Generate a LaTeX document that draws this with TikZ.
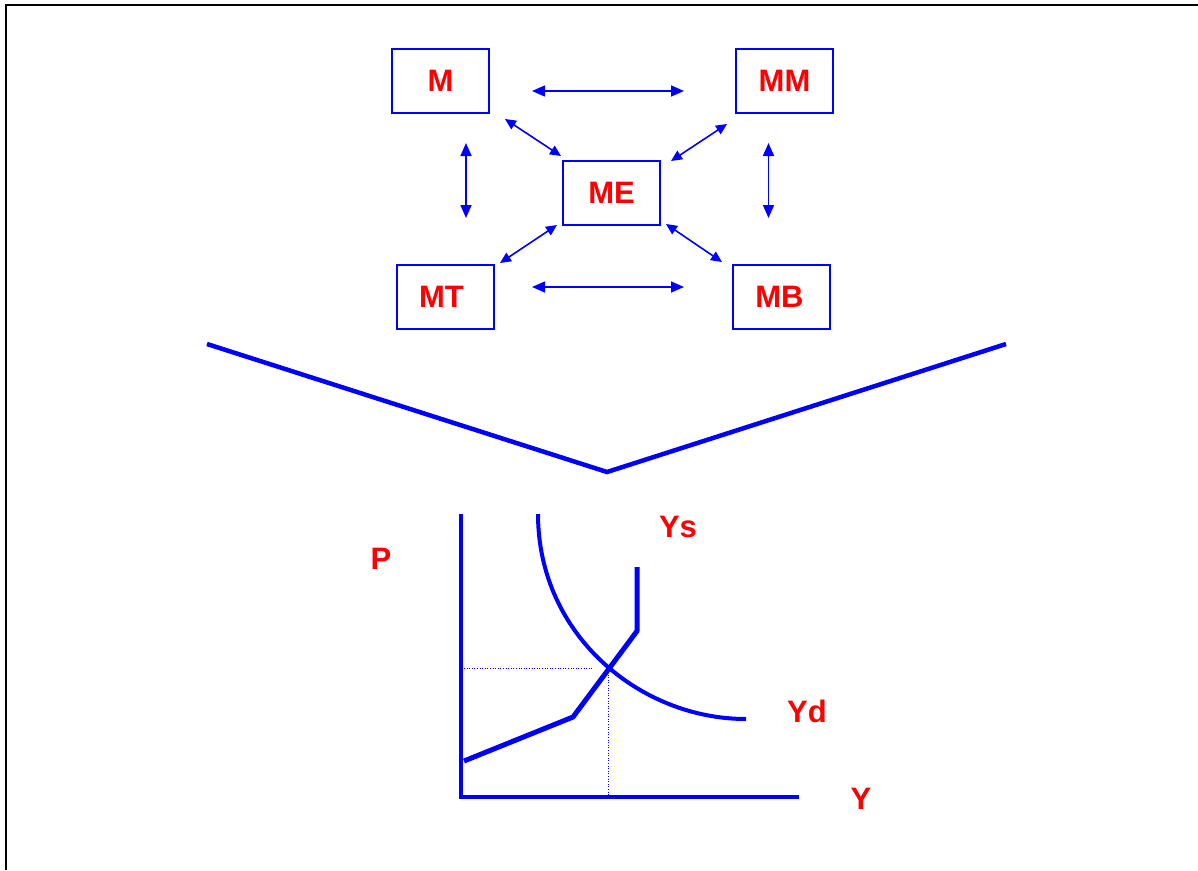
\documentclass[tikz,border=0pt]{standalone}
\usepackage{fontspec}
\setmainfont{Liberation Sans}
\usetikzlibrary{arrows.meta}
\definecolor{pblue}{RGB}{0,0,255}
\definecolor{pred}{RGB}{255,0,0}
\begin{document}
\begin{tikzpicture}[x=1pt,y=-1pt,
  boxnode/.style={draw=pblue,line width=1.5pt,minimum width=97pt,minimum height=64pt,inner sep=0pt,
    text=pred,font=\fontsize{31}{31}\selectfont\bfseries},
  lbl/.style={text=pred,font=\fontsize{31}{31}\selectfont\bfseries,inner sep=0pt},
  link/.style={draw=pblue,line width=1.6pt,{Triangle[length=13pt,width=11pt]}-{Triangle[length=13pt,width=11pt]}},
  dlink/.style={draw=pblue,line width=1.6pt,{Triangle[length=11pt,width=10pt]}-{Triangle[length=11pt,width=10pt]}},
  thick line/.style={draw=pblue,line width=4.5pt},
  guide/.style={draw=pblue,line width=0.6pt,dotted}]
\useasboundingbox (0,0) rectangle (1198,870);
% frame
\draw[line width=2pt] (6,870) -- (6,5) -- (1198,5);
% boxes
\node[boxnode] (M)  at (440.5,81)  {M};
\node[boxnode] (MM) at (784.5,81)  {MM};
\node[boxnode] (ME) at (611.5,193) {ME};
\node[boxnode] (MT) at (445.5,297) {\hspace*{-8pt}MT};
\node[boxnode] (MB) at (781.5,297) {\hspace*{-4pt}MB};
% connector endpoints
\coordinate (t1) at (532,91);  \coordinate (t2) at (684,91);
\coordinate (b1) at (532,287); \coordinate (b2) at (684,287);
\coordinate (l1) at (466,143); \coordinate (l2) at (466,218);
\coordinate (r1) at (768.5,143); \coordinate (r2) at (768.5,218);
\coordinate (a1) at (505,119); \coordinate (a2) at (561,156);
\coordinate (c1) at (727,124); \coordinate (c2) at (671,161);
\coordinate (d1) at (557,225); \coordinate (d2) at (500,263);
\coordinate (e1) at (666,224); \coordinate (e2) at (722,262);
\draw[link] (t1) -- (t2);
\draw[link] (b1) -- (b2);
\draw[link] (l1) -- (l2);
\draw[link] (r1) -- (r2);
\draw[dlink] (a1) -- (a2);
\draw[dlink] (c1) -- (c2);
\draw[dlink] (d1) -- (d2);
\draw[dlink] (e1) -- (e2);
% big V
\coordinate (v1) at (207,344); \coordinate (v2) at (607,472); \coordinate (v3) at (1006,344);
\draw[thick line,line width=4.5pt] (v1) -- (v2) -- (v3);
% graph
\coordinate (O) at (461,797);
\coordinate (Ytop) at (461,514);
\coordinate (Xend) at (799,797);
\draw[thick line,line width=4pt] (Ytop) -- (O) -- (Xend);
% guides
\coordinate (E) at (608,668);
\draw[guide] (464,668) -- (592,668);
\draw[guide] (608,672) -- (608,795);
% demand
\coordinate (d0) at (538,514); \coordinate (dE) at (746,719);
\draw[thick line,line width=4pt] (d0) .. controls (538,635) and (640,719) .. (dE);
% supply
\coordinate (s0) at (464,761); \coordinate (s1) at (573,717); \coordinate (s2) at (637,631); \coordinate (s3) at (637,567);
\draw[thick line,line width=5pt,line join=bevel] (s0) -- (s1) -- (s2) -- (s3);
% labels
\node[lbl] (P)  at (381,559) {P};
\node[lbl] (Ys) at (678,527) {Ys};
\node[lbl] (Yd) at (807,711) {Yd};
\node[lbl] (Y)  at (861,799) {Y};
\end{tikzpicture}
\end{document}
